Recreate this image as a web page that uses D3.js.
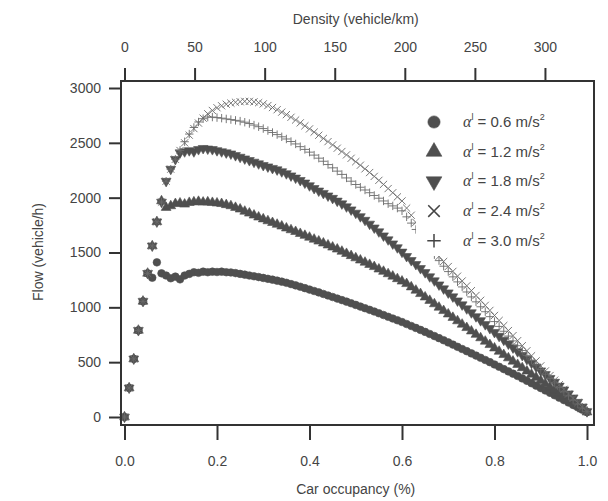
<!DOCTYPE html>
<meta charset="utf-8">
<style>
body { margin: 0; background: #fff; }
svg { font-family: "Liberation Sans", Arial, sans-serif; }
.axis path { display: none; }
.axis line { stroke: #333; stroke-width: 2; }
.axis text { font-size: 14px; fill: #444; }
.title { font-size: 14px; fill: #444; }
.legend text { font-size: 15px; fill: #444; }
</style>
<svg width="608" height="501"></svg>
<script src="https://d3js.org/d3.v7.min.js"></script>
<script>

// car occupancy grid (fraction)
var occupancy = [0,.01,.02,.03,.04,.05,.06,.07,.08,.09,.10,
  .11,.12,.13,.14,.15,.16,.17,.18,.19,.20,
  .21,.22,.23,.24,.25,.26,.27,.28,.29,.30,
  .31,.32,.33,.34,.35,.36,.37,.38,.39,.40,
  .41,.42,.43,.44,.45,.46,.47,.48,.49,.50,
  .51,.52,.53,.54,.55,.56,.57,.58,.59,.60,
  .61,.62,.63,.64,.65,.66,.67,.68,.69,.70,
  .71,.72,.73,.74,.75,.76,.77,.78,.79,.80,
  .81,.82,.83,.84,.85,.86,.87,.88,.89,.90,
  .91,.92,.93,.94,.95,.96,.97,.98,.99,1.00];

// flow (vehicle/h), one per occupancy value
var flow06 = [0,265,530,790,1055,1310,1270,1410,1310,1290,1265,
  1280,1255,1290,1305,1320,1315,1325,1320,1325,1322,
  1325,1320,1318,1312,1305,1298,1290,1283,1276,1268,
  1260,1252,1243,1234,1224,1212,1200,1188,1175,1162,
  1149,1136,1122,1108,1094,1080,1066,1052,1037,1022,
  1007,992,977,962,946,930,914,898,882,866,
  848,830,812,794,776,757,738,719,700,680,
  660,640,620,600,580,560,540,520,500,479,
  458,437,416,395,374,352,330,308,286,264,
  242,220,198,176,154,132,110,88,66,44];

var flow12 = [0,265,530,790,1055,1310,1560,1780,1970,1910,1925,
  1945,1950,1940,1955,1960,1965,1958,1960,1955,1950,
  1945,1935,1925,1910,1895,1875,1858,1840,1822,1805,
  1788,1772,1756,1740,1722,1706,1690,1672,1655,1638,
  1620,1603,1585,1567,1548,1530,1510,1490,1470,1450,
  1430,1410,1390,1370,1348,1327,1305,1283,1260,1238,
  1215,1185,1155,1124,1093,1062,1031,1000,969,938,
  907,876,845,814,783,752,721,690,659,628,
  598,568,538,508,478,448,418,389,360,331,
  302,273,244,215,186,157,128,100,72,45];

var flow18 = [0,265,530,790,1055,1310,1560,1780,1960,2150,2260,
  2350,2410,2420,2430,2420,2440,2450,2445,2440,2430,
  2420,2410,2400,2385,2370,2355,2340,2325,2310,2295,
  2282,2268,2255,2238,2220,2200,2180,2158,2135,2110,
  2085,2062,2040,2017,1995,1970,1945,1918,1890,1860,
  1828,1795,1760,1725,1690,1653,1617,1580,1545,1505,
  1465,1428,1392,1355,1318,1280,1243,1206,1170,1133,
  1097,1060,1024,988,952,916,880,844,808,772,
  737,702,667,632,597,562,527,492,457,422,
  388,353,318,283,248,212,175,135,92,50];

var flow24 = [0,265,530,790,1055,1310,1560,1780,1960,2150,2260,
  2350,2430,2500,2570,2630,2680,2725,2765,2795,2820,
  2838,2852,2862,2870,2875,2878,2878,2874,2866,2855,
  2840,2822,2802,2780,2757,2733,2708,2682,2655,2627,
  2598,2569,2540,2511,2481,2451,2421,2390,2359,2328,
  2296,2263,2229,2194,2158,2121,2083,2045,2007,1970,
  1905,1840,1775,1710,1645,1580,1520,1465,1418,1372,
  1328,1284,1240,1196,1152,1108,1064,1018,972,926,
  880,834,788,742,696,650,604,558,512,466,
  420,378,336,294,252,210,170,130,90,50];

var flow30 = [0,265,530,790,1055,1310,1560,1780,1960,2150,2260,
  2350,2430,2510,2580,2640,2690,2720,2735,2735,2730,
  2725,2718,2712,2705,2698,2688,2676,2662,2647,2630,
  2612,2594,2575,2555,2535,2512,2490,2465,2440,2415,
  2388,2360,2332,2302,2272,2242,2212,2180,2150,2120,
  2095,2070,2045,2020,1995,1970,1945,1925,1905,1880,
  1825,1768,1710,1652,1594,1536,1480,1426,1375,1326,
  1278,1232,1186,1140,1095,1050,1005,960,915,870,
  826,782,738,694,650,606,562,518,475,432,
  390,350,310,270,230,192,154,118,82,48];

var accelLabels = ["0.6", "1.2", "1.8", "2.4", "3.0"];
var occTicks = [0, 0.2, 0.4, 0.6, 0.8, 1.0];
var densityTicks = [0, 50, 100, 150, 200, 250, 300];
var flowTicks = [0, 500, 1000, 1500, 2000, 2500, 3000];

var svg = d3.select("svg");

var x = d3.scaleLinear().domain([0, 1]).range([124.5, 587]),
    xTop = d3.scaleLinear().domain([0, 330]).range([124.5, 587]),
    y = d3.scaleLinear().domain([0, 3000]).range([417, 88]);

var frame = {left: 121, right: 594, top: 81, bottom: 425};

// symbols
var dark = "#4f4f4f";
var symbols = [
  {type: d3.symbolCircle, size: 46, rot: 0, fill: true},
  {type: d3.symbolTriangle, size: 42, rot: 0, fill: true},
  {type: d3.symbolTriangle, size: 42, rot: 180, fill: true},
  {type: "times", size: 3.6, rot: 0, fill: false},
  {type: "plus", size: 4.2, rot: 0, fill: false}
];

function markerPath(s, scale) {
  if (s.type === "times") {
    var r = s.size * scale;
    return "M" + (-r) + "," + (-r) + "L" + r + "," + r + "M" + (-r) + "," + r + "L" + r + "," + (-r);
  }
  if (s.type === "plus") {
    var p = s.size * scale;
    return "M" + (-p) + ",0L" + p + ",0M0," + (-p) + "L0," + p;
  }
  return d3.symbol().type(s.type).size(s.size * scale * scale)();
}

var series = [flow06, flow12, flow18, flow24, flow30];

var plot = svg.append("g");

series.forEach(function(vals, i) {
  var s = symbols[i];
  plot.append("g").selectAll("path")
    .data(vals)
    .enter().append("path")
      .attr("d", markerPath(s, 1))
      .attr("transform", function(d, j) {
        return "translate(" + x(occupancy[j]) + "," + y(d) + ") rotate(" + s.rot + ")";
      })
      .attr("fill", s.fill ? dark : "none")
      .attr("stroke", s.fill ? dark : "#6a6a6a")
      .attr("stroke-width", s.fill ? 0.6 : 0.9);
});

// legend with white background
var legend = svg.append("g").attr("class", "legend");
legend.append("rect")
    .attr("x", 416).attr("y", 102)
    .attr("width", 170).attr("height", 154)
    .attr("fill", "#fff");

accelLabels.forEach(function(lab, i) {
  var s = symbols[i];
  var ly = 122 + i * 29.7;
  legend.append("path")
      .attr("d", markerPath(s, s.fill ? 1.6 : 1.6))
      .attr("transform", "translate(434," + ly + ") rotate(" + s.rot + ")")
      .attr("fill", s.fill ? dark : "none")
      .attr("stroke", s.fill ? dark : "#444")
      .attr("stroke-width", s.fill ? 0.6 : 1.5);
  var t = legend.append("text")
      .attr("x", 463).attr("y", ly + 5);
  t.append("tspan")
      .style("font-family", "'Liberation Serif', serif")
      .style("font-style", "italic")
      .style("font-size", "16px")
      .text("\u03b1");
  t.append("tspan")
      .attr("dy", -7)
      .style("font-size", "9px")
      .text("l");
  t.append("tspan")
      .attr("dy", 7)
      .text(" = " + lab + " m/s");
  t.append("tspan")
      .attr("dy", -7)
      .style("font-size", "9px")
      .text("2");
});

// frame
svg.append("rect")
    .attr("x", frame.left).attr("y", frame.top)
    .attr("width", frame.right - frame.left)
    .attr("height", frame.bottom - frame.top)
    .attr("fill", "none")
    .attr("stroke", "#333")
    .attr("stroke-width", 2);

svg.append("g")
    .attr("class", "axis")
    .attr("transform", "translate(0," + frame.bottom + ")")
    .call(d3.axisBottom(x).tickValues(occTicks).tickFormat(d3.format(".1f")).tickSize(15).tickPadding(16));

svg.append("g")
    .attr("class", "axis")
    .attr("transform", "translate(0," + frame.top + ")")
    .call(d3.axisTop(xTop).tickValues(densityTicks).tickFormat(d3.format("d")).tickSize(13).tickPadding(16));

svg.append("g")
    .attr("class", "axis")
    .attr("transform", "translate(" + frame.left + ",0)")
    .call(d3.axisLeft(y).tickValues(flowTicks).tickFormat(d3.format("d")).tickSize(12).tickPadding(8));

svg.append("text")
    .attr("class", "title")
    .attr("x", x(0.5)).attr("y", 494)
    .attr("text-anchor", "middle")
    .text("Car occupancy (%)");

svg.append("text")
    .attr("class", "title")
    .attr("x", x(0.5)).attr("y", 24)
    .attr("text-anchor", "middle")
    .text("Density (vehicle/km)");

svg.append("text")
    .attr("class", "title")
    .attr("transform", "translate(43,252) rotate(-90)")
    .attr("text-anchor", "middle")
    .text("Flow (vehicle/h)");

</script>
